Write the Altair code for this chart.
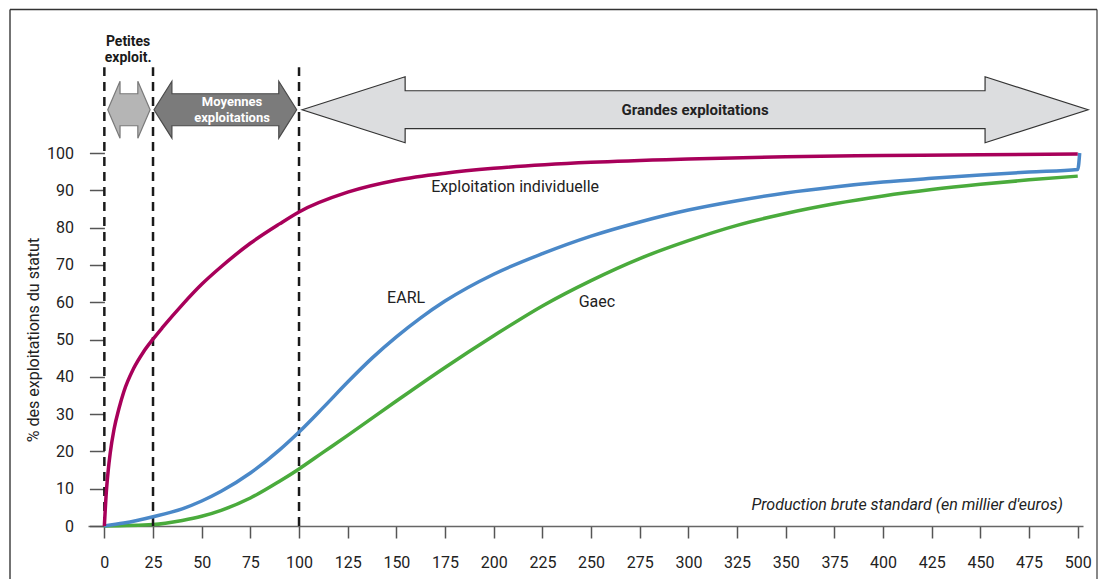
import altair as alt
import pandas as pd

# ---------------- data ----------------
indiv_x = [0, 1, 2, 3, 5, 7.5, 10, 15, 20, 25, 30, 40, 50, 60, 75, 90, 100, 125, 150, 175, 200, 250, 300, 350, 400, 450, 500]
indiv_y = [0, 9, 15, 19.5, 26, 31.5, 36, 42.2, 46.6, 50.1, 53.3, 59.3, 64.8, 69.5, 75.8, 81, 84.2, 89.5, 92.7, 94.6, 95.9, 97.5, 98.4, 99, 99.3, 99.5, 99.7]

earl_x = [0, 10, 25, 40, 50, 60, 75, 90, 100, 112.5, 125, 137.5, 150, 162.5, 175, 200, 225, 250, 275, 300, 325, 350, 375, 400, 425, 450, 475, 500, 501]
earl_y = [0, 0.8, 2.5, 4.6, 6.7, 9.3, 14.2, 20.4, 25.2, 31.8, 38.6, 45.0, 50.7, 55.8, 60.3, 67.5, 73, 77.7, 81.5, 84.7, 87.2, 89.3, 90.9, 92.2, 93.2, 94.1, 94.9, 95.6, 100]

gaec_x = [0, 25, 40, 50, 60, 75, 90, 100, 112.5, 125, 150, 175, 200, 225, 250, 275, 300, 325, 350, 375, 400, 425, 450, 475, 500]
gaec_y = [0, 0.4, 1.5, 2.6, 4.2, 7.5, 12, 15.3, 19.8, 24.3, 33.5, 42.5, 51, 59, 65.8, 71.7, 76.5, 80.6, 83.8, 86.4, 88.5, 90.2, 91.6, 92.8, 93.8]

x_ticks = list(range(0, 501, 25))
y_ticks = list(range(0, 101, 10))
boundaries = [0, 25, 100]

# category arrows: start, end (in thousand euros)
arrow_names = ["Petites", "Moyennes", "Grandes"]
arrow_start = [1.75, 25.5, 101.6]
arrow_end = [23.5, 98.8, 505.3]

series_labels = ["Exploitation individuelle", "EARL", "Gaec"]
series_label_x = [211, 155, 253]
series_label_y = [90.8, 61, 60]

# ---------------- styling ----------------
FONT = "Roboto"
C_INDIV = "#a8005a"
C_EARL = "#4a88c8"
C_GAEC = "#4aab3c"

X = alt.Scale(domain=[-8.4, 502.7], nice=False, zero=False)
Y = alt.Scale(domain=[0, 100], nice=False, zero=False)

XA = alt.Axis(values=x_ticks, grid=False, tickSize=12, tickColor="#555", tickWidth=1.5,
              domainColor="#666", domainWidth=1.5, labelFontSize=16, labelFont=FONT,
              labelColor="#222", labelPadding=16, title=None, labelFlush=False)
YA = alt.Axis(values=y_ticks, grid=False, domain=False, tickSize=15, tickColor="#555",
              tickWidth=1.5, labelFontSize=16, labelFont=FONT, labelColor="#222",
              labelPadding=16, offset=-16.4, title="% des exploitations du statut",
              titleFont=FONT, titleFontSize=16, titleFontWeight="normal",
              titleColor="#222", titlePadding=5)


def enc(chart, **extra):
    return chart.encode(
        x=alt.X("x:Q", scale=X, axis=XA),
        y=alt.Y("y:Q", scale=Y, axis=YA),
        **extra,
    )


def line_layer(xs, ys, color):
    df = pd.DataFrame({"x": xs, "y": ys})
    return enc(alt.Chart(df).mark_line(color=color, strokeWidth=3.5, clip=False,
                                       interpolate="monotone"))


def arrow_df(start, end, head_len, head_half, shaft_half, center=111.6):
    eps = 0.01
    pts = [
        (start, center, center),
        (start + head_len, center + head_half, center - head_half),
        (start + head_len + eps, center + shaft_half, center - shaft_half),
        (end - head_len - eps, center + shaft_half, center - shaft_half),
        (end - head_len, center + head_half, center - head_half),
        (end, center, center),
    ]
    return pd.DataFrame({"x": [p[0] for p in pts], "y": [p[1] for p in pts],
                         "y2": [p[2] for p in pts]})


arrow_specs = [
    (6.3, 7.63, 4.29, "#b5b5b5", "#7a7a7a"),
    (9.2, 7.63, 4.29, "#7b7b7b", "#4a4a4a"),
    (52.9, 8.84, 5.09, "#dcdddf", "#333333"),
]

arrow_layers = []
for s, e, (hl, hh, sh, fill, stroke) in zip(arrow_start, arrow_end, arrow_specs):
    arrow_layers.append(
        enc(alt.Chart(arrow_df(s, e, hl, hh, sh)).mark_area(
            fill=fill, stroke=stroke, strokeWidth=1.2, clip=False, interpolate="linear"
        ), y2="y2:Q")
    )

# dashed boundaries
dash_df = pd.DataFrame({"x": boundaries, "y": [0] * len(boundaries), "y2": [123] * len(boundaries)})
dashes = enc(alt.Chart(dash_df).mark_rule(color="#1a1a1a", strokeWidth=2.5, strokeDash=[9, 6], clip=False),
             y2="y2:Q")


def text_layer(xs, ys, texts, **kw):
    df = pd.DataFrame({"x": xs, "y": ys, "t": texts})
    return enc(alt.Chart(df).mark_text(font=FONT, baseline="middle", **kw), text="t:N")


petites = text_layer([12.2, 12.2], [129.7, 125.6], ["Petites", "exploit."], fontSize=14,
                     fontWeight="bold", color="#1a1a1a")
moyennes = text_layer([65.6, 65.6], [113.7, 109.5], ["Moyennes", "exploitations"], fontSize=13,
                      fontWeight="bold", color="white")
grandes = text_layer([(arrow_start[2] + arrow_end[2]) / 2], [111.6], ["Grandes exploitations"],
                     fontSize=15, fontWeight="bold", color="#222")
series_text = text_layer(series_label_x, series_label_y, series_labels, fontSize=16, color="#222")
xtitle = text_layer([492.4], [5.6], ["Production brute standard (en millier d'euros)"],
                    fontSize=16, fontStyle="italic", color="#222", align="right")

# frame around the whole figure
one = pd.DataFrame({"a": [0]})
frame_l = alt.Chart(one).mark_rule(color="#444", strokeWidth=1.5, clip=False).encode(
    x=alt.value(-78), y=alt.value(-143.5), y2=alt.value(440))
frame_r = alt.Chart(one).mark_rule(color="#888", strokeWidth=2, clip=False).encode(
    x=alt.value(1009), y=alt.value(-143.5), y2=alt.value(440))
frame_t = alt.Chart(one).mark_rule(color="#333", strokeWidth=1.5, clip=False).encode(
    x=alt.value(-78), x2=alt.value(1009), y=alt.value(-143.5))

chart = alt.layer(
    line_layer(gaec_x, gaec_y, C_GAEC),
    frame_l, frame_r, frame_t,
    *arrow_layers,
    dashes,
    line_layer(earl_x, earl_y, C_EARL),
    line_layer(indiv_x, indiv_y, C_INDIV),
    petites, moyennes, grandes, series_text, xtitle,
).properties(
    width=995,
    height=373,
    autosize=alt.AutoSizeParams(type="none"),
    padding={"left": 80, "top": 145, "right": 16, "bottom": 53},
).configure(background="white").configure_view(stroke=None)

chart.save("out.html", embed_options={"renderer": "svg", "actions": False})
